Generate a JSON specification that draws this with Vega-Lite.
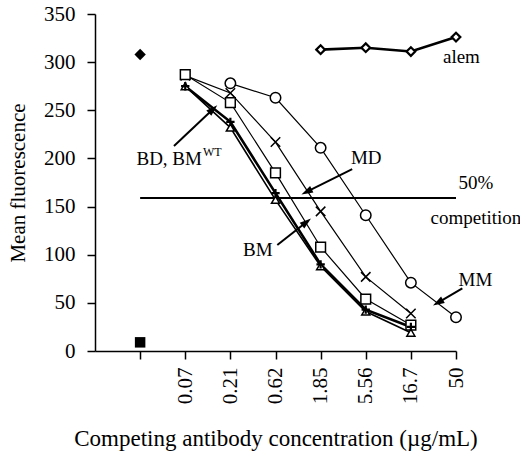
{
  "$schema": "https://vega.github.io/schema/vega-lite/v6.json",
  "width": 361,
  "height": 337,
  "autosize": "none",
  "padding": {"left": 95, "top": 14, "right": 64, "bottom": 100},
  "background": "white",
  "datasets": {
    "curves": [
      {"series": "alem", "conc": 5, "mfi": 313},
      {"series": "alem", "conc": 6, "mfi": 315},
      {"series": "alem", "conc": 7, "mfi": 311},
      {"series": "alem", "conc": 8, "mfi": 326},
      {"series": "MM", "conc": 3, "mfi": 278},
      {"series": "MM", "conc": 4, "mfi": 263},
      {"series": "MM", "conc": 5, "mfi": 211},
      {"series": "MM", "conc": 6, "mfi": 141},
      {"series": "MM", "conc": 7, "mfi": 71},
      {"series": "MM", "conc": 8, "mfi": 35},
      {"series": "MD", "conc": 2, "mfi": 286},
      {"series": "MD", "conc": 3, "mfi": 268},
      {"series": "MD", "conc": 4, "mfi": 217},
      {"series": "MD", "conc": 5, "mfi": 145},
      {"series": "MD", "conc": 6, "mfi": 77},
      {"series": "MD", "conc": 7, "mfi": 39},
      {"series": "BM", "conc": 2, "mfi": 287},
      {"series": "BM", "conc": 3, "mfi": 258},
      {"series": "BM", "conc": 4, "mfi": 185},
      {"series": "BM", "conc": 5, "mfi": 108},
      {"series": "BM", "conc": 6, "mfi": 54},
      {"series": "BM", "conc": 7, "mfi": 27},
      {"series": "BD", "conc": 2, "mfi": 275},
      {"series": "BD", "conc": 3, "mfi": 238},
      {"series": "BD", "conc": 4, "mfi": 164},
      {"series": "BD", "conc": 5, "mfi": 90},
      {"series": "BD", "conc": 6, "mfi": 43},
      {"series": "BD", "conc": 7, "mfi": 25},
      {"series": "BMWT", "conc": 2, "mfi": 275},
      {"series": "BMWT", "conc": 3, "mfi": 232},
      {"series": "BMWT", "conc": 4, "mfi": 157},
      {"series": "BMWT", "conc": 5, "mfi": 88},
      {"series": "BMWT", "conc": 6, "mfi": 41},
      {"series": "BMWT", "conc": 7, "mfi": 19}
    ],
    "controls": [
      {"series": "no antibody", "conc": 1, "mfi": 308},
      {"series": "background", "conc": 1, "mfi": 9}
    ],
    "reference": [
      {"conc": 1, "mfi": 159},
      {"conc": 8, "mfi": 159}
    ],
    "notes": [
      {"text": "alem", "conc": 8.12, "mfi": 305},
      {"text": "50%", "conc": 8.44, "mfi": 174},
      {"text": "competition", "conc": 8.44, "mfi": 138},
      {"text": "MD", "conc": 6.01, "mfi": 200},
      {"text": "BM", "conc": 3.61, "mfi": 105},
      {"text": "MM", "conc": 8.43, "mfi": 74}
    ],
    "arrows": [
      {"conc": 1.75, "mfi": 213, "conc2": 2.59, "mfi2": 250},
      {"conc": 4.04, "mfi": 110, "conc2": 4.66, "mfi2": 133},
      {"conc": 5.7, "mfi": 189, "conc2": 4.72, "mfi2": 166},
      {"conc": 8.14, "mfi": 65, "conc2": 7.63, "mfi2": 51}
    ]
  },
  "encoding": {
    "x": {
      "field": "conc",
      "type": "quantitative",
      "scale": {"domain": [0, 8], "nice": false, "zero": false},
      "axis": {
        "title": "Competing antibody concentration (µg/mL)",
        "values": [1, 2, 3, 4, 5, 6, 7, 8],
        "labelExpr": "['', '', '0.07', '0.21', '0.62', '1.85', '5.56', '16.7', '50'][datum.value]",
        "labelAngle": -90,
        "labelFontSize": 21,
        "labelPadding": 8,
        "titleFontSize": 23,
        "titleY": 87,
        "titleBaseline": "middle"
      }
    },
    "y": {
      "field": "mfi",
      "type": "quantitative",
      "scale": {"domain": [0, 350], "nice": false},
      "axis": {
        "title": "Mean fluorescence",
        "values": [0, 50, 100, 150, 200, 250, 300, 350],
        "labelFontSize": 21,
        "labelPadding": 12,
        "titleFontSize": 21,
        "titleX": -77,
        "titleBaseline": "middle"
      }
    }
  },
  "layer": [
    {
      "data": {"name": "reference"},
      "mark": {"type": "line", "color": "black", "strokeWidth": 2}
    },
    {
      "data": {"name": "curves"},
      "transform": [{"filter": "indexof(['MM', 'MD', 'BM'], datum.series) >= 0"}],
      "mark": {"type": "line", "color": "black", "strokeWidth": 1.2},
      "encoding": {"detail": {"field": "series"}}
    },
    {
      "data": {"name": "curves"},
      "transform": [{"filter": "datum.series == 'BMWT'"}],
      "mark": {"type": "line", "color": "black", "strokeWidth": 1.6},
      "encoding": {}
    },
    {
      "data": {"name": "curves"},
      "transform": [{"filter": "datum.series == 'alem' || datum.series == 'BD'"}],
      "mark": {"type": "line", "color": "black", "strokeWidth": 2.6},
      "encoding": {"detail": {"field": "series"}}
    },
    {
      "data": {"name": "curves"},
      "transform": [{"filter": "datum.series == 'alem'"}],
      "mark": {"type": "point", "shape": "diamond", "size": 75, "stroke": "black", "fill": "white", "fillOpacity": 1, "strokeWidth": 2.2, "opacity": 1}
    },
    {
      "data": {"name": "curves"},
      "transform": [{"filter": "datum.series == 'MM'"}],
      "mark": {"type": "point", "shape": "circle", "size": 110, "stroke": "black", "fill": "white", "fillOpacity": 1, "strokeWidth": 1.5, "opacity": 1}
    },
    {
      "data": {"name": "curves"},
      "transform": [{"filter": "datum.series == 'MD'"}],
      "mark": {"type": "point", "shape": "M-1,-1L1,1M-1,1L1,-1", "size": 90, "stroke": "black", "filled": false, "strokeWidth": 1.5, "opacity": 1}
    },
    {
      "data": {"name": "curves"},
      "transform": [{"filter": "datum.series == 'BM'"}],
      "mark": {"type": "point", "shape": "square", "size": 95, "stroke": "black", "fill": "white", "fillOpacity": 1, "strokeWidth": 1.5, "opacity": 1}
    },
    {
      "data": {"name": "curves"},
      "transform": [{"filter": "datum.series == 'BMWT'"}],
      "mark": {"type": "point", "shape": "triangle-up", "size": 65, "stroke": "black", "fill": "white", "fillOpacity": 1, "strokeWidth": 1.5, "opacity": 1}
    },
    {
      "data": {"name": "curves"},
      "transform": [{"filter": "datum.series == 'BD'"}],
      "mark": {"type": "point", "shape": "M-1,0L1,0M0,-1L0,1", "size": 70, "stroke": "black", "filled": false, "strokeWidth": 2.2, "opacity": 1}
    },
    {
      "data": {"name": "controls"},
      "transform": [{"filter": "datum.series == 'no antibody'"}],
      "mark": {"type": "point", "shape": "diamond", "size": 130, "filled": true, "color": "black", "opacity": 1}
    },
    {
      "data": {"name": "controls"},
      "transform": [{"filter": "datum.series == 'background'"}],
      "mark": {"type": "point", "shape": "square", "size": 110, "filled": true, "color": "black", "opacity": 1}
    },
    {
      "data": {"name": "arrows"},
      "mark": {"type": "rule", "color": "black", "strokeWidth": 2},
      "encoding": {
        "x2": {"field": "conc2"},
        "y2": {"field": "mfi2"}
      }
    },
    {
      "data": {"name": "arrows"},
      "transform": [
        {"calculate": "atan2((datum.conc2 - datum.conc) * 45.1, (datum.mfi2 - datum.mfi) * 0.963) * 180 / PI", "as": "heading"}
      ],
      "mark": {"type": "point", "shape": "M0,-1.4L0.7,0.8L-0.7,0.8Z", "filled": true, "color": "black", "size": 110, "opacity": 1},
      "encoding": {
        "x": {"field": "conc2", "type": "quantitative"},
        "y": {"field": "mfi2", "type": "quantitative"},
        "angle": {"field": "heading", "type": "quantitative", "scale": null}
      }
    },
    {
      "data": {"name": "notes"},
      "mark": {"type": "text", "font": "Liberation Serif", "fontSize": 19, "align": "center", "baseline": "middle"},
      "encoding": {"text": {"field": "text"}}
    },
    {
      "data": {"values": [{"conc": 2.37, "mfi": 199}]},
      "layer": [
        {
          "mark": {"type": "text", "font": "Liberation Serif", "fontSize": 19, "align": "right", "baseline": "middle"},
          "encoding": {"text": {"value": "BD, BM"}}
        },
        {
          "mark": {"type": "text", "font": "Liberation Serif", "fontSize": 12, "align": "left", "baseline": "middle", "dx": 1, "dy": -7},
          "encoding": {"text": {"value": "WT"}}
        }
      ]
    }
  ],
  "config": {
    "view": {"stroke": null},
    "font": "Liberation Serif",
    "axis": {
      "grid": false,
      "domainColor": "black",
      "domainWidth": 1.5,
      "tickColor": "black",
      "tickWidth": 1.5,
      "tickSize": 8,
      "labelColor": "black",
      "labelFont": "Liberation Serif",
      "titleFont": "Liberation Serif",
      "titleFontWeight": "normal",
      "titleColor": "black"
    }
  }
}
